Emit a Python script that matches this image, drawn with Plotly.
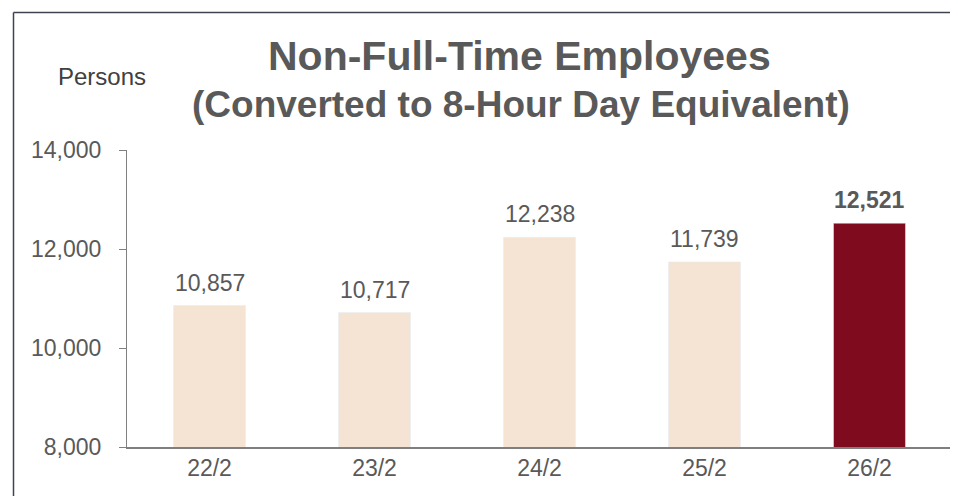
import plotly.graph_objects as go

categories = ["22/2", "23/2", "24/2", "25/2", "26/2"]
values = [10857, 10717, 12238, 11739, 12521]
bar_colors = ["#F5E4D3", "#F5E4D3", "#F5E4D3", "#F5E4D3", "#7E0C1E"]
tick_vals = [8000, 10000, 12000, 14000]
tick_text = ["8,000", "10,000", "12,000", "14,000"]

labels = [f"{v:,}" for v in values]
labels[-1] = f"<b>{values[-1]:,}</b>"

# page body has an 8px margin; work in window pixels and convert
OFF = 8
W, H = 958 - OFF, 496 - OFF
L, T = 127 - OFF, 150 - OFF
Rr, Bb = 952 - OFF, 447 - OFF
pw, ph = Rr - L, Bb - T

FONT = "Liberation Sans, Arial"
GREY = "#595959"

fig = go.Figure(go.Bar(
    x=categories, y=values, marker_color=bar_colors, width=0.436,
))

def px_x(p):
    return (p - OFF - L) / pw

def px_y(p):
    return (Bb - (p - OFF)) / ph

annotations = [
    dict(x=c, y=v, xref="x", yref="y", text=t, showarrow=False,
         xanchor="center", yanchor="bottom", yshift=8,
         font=dict(size=23, color=GREY, family=FONT))
    for c, v, t in zip(categories, values, labels)
]
annotations += [
    dict(text="<b>Non-Full-Time Employees</b>", xref="paper", yref="paper",
         x=px_x(519), y=px_y(56), showarrow=False, xanchor="center", yanchor="middle",
         font=dict(size=41, color=GREY, family=FONT)),
    dict(text="<b>(Converted to 8-Hour Day Equivalent)</b>", xref="paper", yref="paper",
         x=px_x(521), y=px_y(104), showarrow=False, xanchor="center", yanchor="middle",
         font=dict(size=37, color=GREY, family=FONT)),
    dict(text="Persons", xref="paper", yref="paper",
         x=px_x(56), y=px_y(76), showarrow=False, xanchor="left", yanchor="middle",
         font=dict(size=24, color="#404040", family=FONT)),
]

fig.update_layout(
    width=W, height=H,
    margin=dict(l=L, r=W - Rr, t=T, b=H - Bb, pad=0),
    plot_bgcolor="white", paper_bgcolor="white",
    showlegend=False,
    font=dict(family=FONT, color=GREY),
    xaxis=dict(showline=True, linecolor="#7F7F7F", linewidth=1.5, ticks="",
               tickfont=dict(size=23, color=GREY), showgrid=False,
               ticklabelstandoff=0),
    yaxis=dict(range=[8000, 14000], tickvals=tick_vals, ticktext=tick_text,
               showline=True, linecolor="#808080", linewidth=1, ticks="outside",
               ticklen=7, tickcolor="#808080", showgrid=False, zeroline=False,
               tickfont=dict(size=23, color=GREY), ticklabelstandoff=13),
    annotations=annotations,
    shapes=[
        dict(type="line", xref="paper", yref="paper", x0=px_x(13.5), x1=px_x(13.5),
             y0=px_y(12.5), y1=px_y(540), line=dict(color="#3F4350", width=1.5)),
        dict(type="line", xref="paper", yref="paper", x0=px_x(13.5), x1=px_x(1000),
             y0=px_y(12.5), y1=px_y(12.5), line=dict(color="#3F4350", width=1.5)),
    ],
)

fig.write_html("out.html")
